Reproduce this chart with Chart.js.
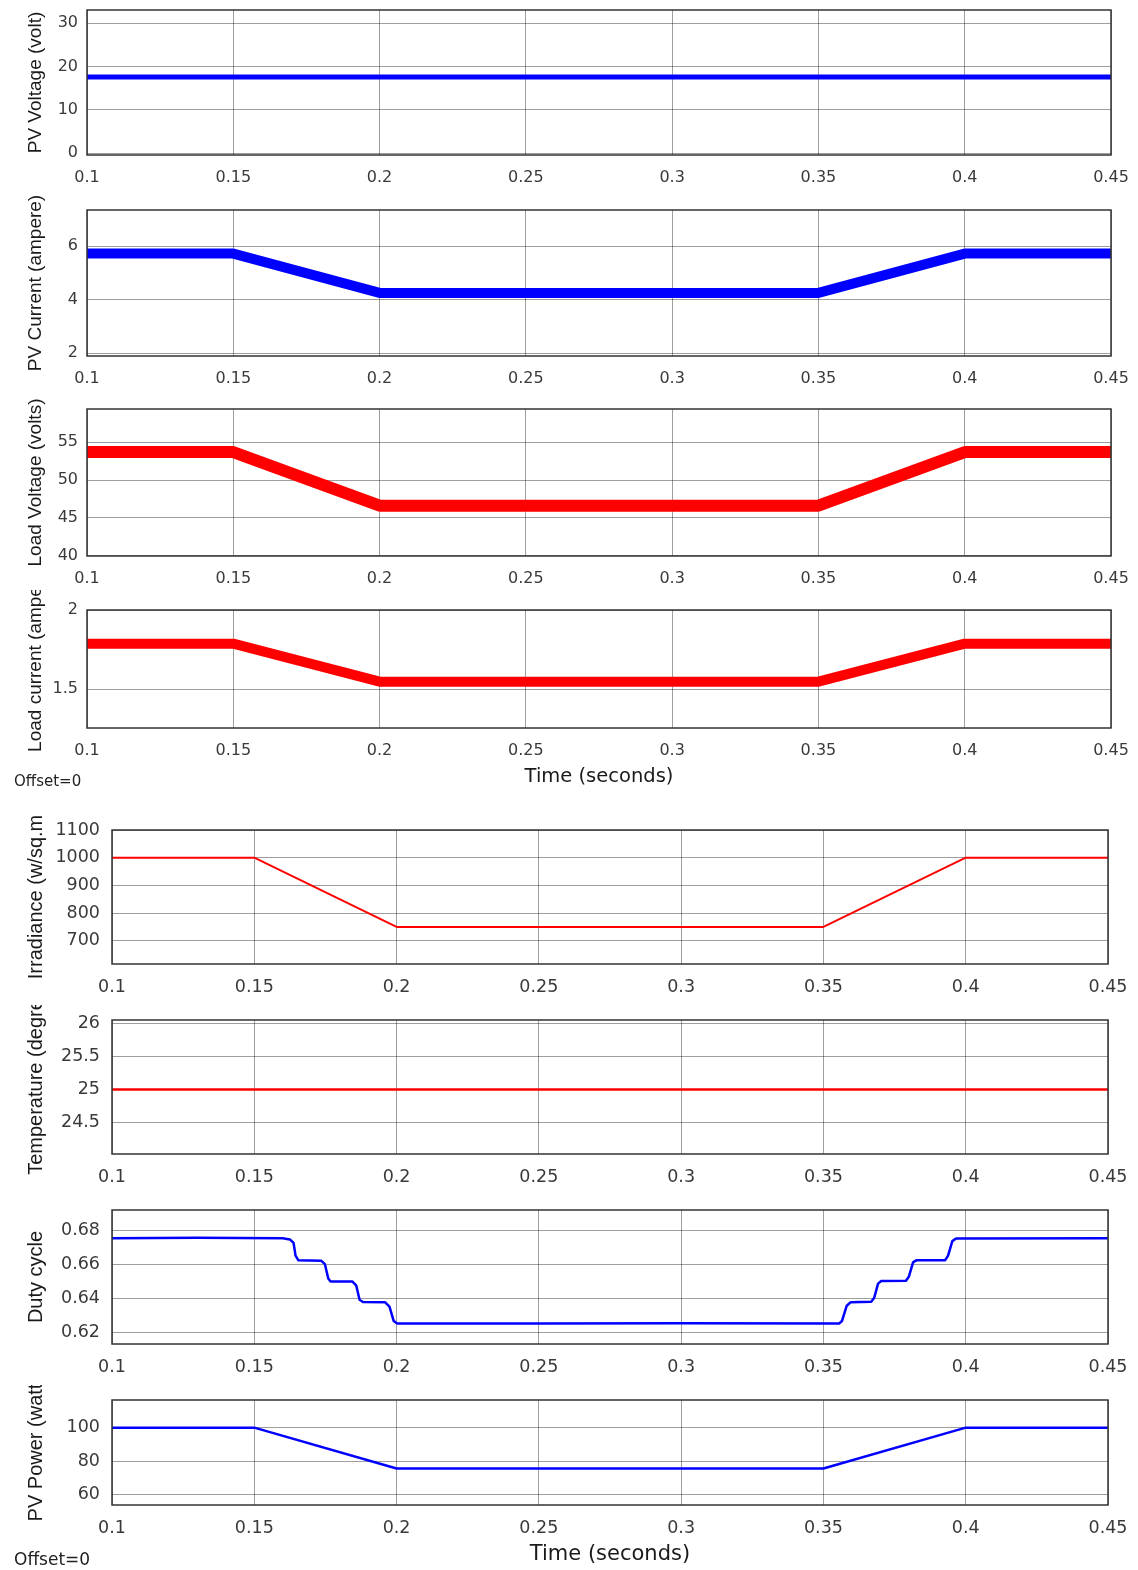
<!DOCTYPE html>
<html>
<head>
<meta charset="utf-8">
<script src="https://cdn.jsdelivr.net/npm/chart.js@4.4.1/dist/chart.umd.min.js"></script>
<style>
  html, body { margin: 0; padding: 0; background: #fff; }
  #page { position: relative; width: 1138px; height: 1570px; overflow: hidden; }
  canvas { position: absolute; left: 0; }
  .offset { position: absolute; left: 14px; font-family: 'DejaVu Sans'; color: #222; line-height: 1; }
</style>
</head>
<body>
<div id="page">
  <canvas id="pvVoltageChart" width="1138" height="190" style="top:0px"></canvas>
  <canvas id="pvCurrentChart" width="1138" height="200" style="top:190px"></canvas>
  <canvas id="loadVoltageChart" width="1138" height="200" style="top:390px"></canvas>
  <canvas id="loadCurrentChart" width="1138" height="200" style="top:590px"></canvas>
  <canvas id="irradianceChart" width="1138" height="200" style="top:805px"></canvas>
  <canvas id="temperatureChart" width="1138" height="195" style="top:1005px"></canvas>
  <canvas id="dutyChart" width="1138" height="190" style="top:1200px"></canvas>
  <canvas id="pvPowerChart" width="1138" height="185" style="top:1385px"></canvas>
  <div class="offset" style="top:774px;font-size:15px">Offset=0</div>
  <div class="offset" style="top:1551px;font-size:17px">Offset=0</div>
</div>
<script>
/*--Data--*/
var flatTime = [0.1, 0.45];
var rampTime = [0.1, 0.15, 0.2, 0.35, 0.4, 0.45];
var timeTicks = [0.1, 0.15, 0.2, 0.25, 0.3, 0.35, 0.4, 0.45];

var pvVoltage = [17.6, 17.6];
var pvCurrent = [5.72, 5.72, 4.25, 4.25, 5.72, 5.72];
var loadVoltage = [53.7, 53.7, 46.6, 46.6, 53.7, 53.7];
var loadCurrent = [1.787, 1.787, 1.547, 1.547, 1.787, 1.787];
var irradiance = [1000, 1000, 750, 750, 1000, 1000];
var temperature = [25, 25];
var pvPower = [100, 100, 75.5, 75.5, 100, 100];

var dutyTime = [0.1, 0.13, 0.16, 0.1625, 0.1638, 0.1645, 0.1655, 0.1735, 0.1748, 0.176, 0.1768,
  0.1845, 0.1858, 0.187, 0.1882, 0.196, 0.1975, 0.199, 0.2002, 0.25, 0.3, 0.3555,
  0.3565, 0.3582, 0.3595, 0.3668, 0.3678, 0.3692, 0.3703, 0.379, 0.38, 0.3815, 0.3826,
  0.3928, 0.3938, 0.3953, 0.3966, 0.45];
var dutyCycle = [0.6752, 0.6755, 0.6752, 0.6745, 0.6725, 0.665, 0.6622, 0.662, 0.66, 0.6515, 0.6498,
  0.6497, 0.6475, 0.639, 0.6377, 0.6375, 0.635, 0.6265, 0.625, 0.6251, 0.6252, 0.625,
  0.6265, 0.6355, 0.6375, 0.6378, 0.64, 0.6485, 0.65, 0.6502, 0.6525, 0.661, 0.6622,
  0.6623, 0.665, 0.6735, 0.675, 0.6752];

var pvVoltageTicks = [0, 10, 20, 30];
var pvCurrentTicks = [2, 4, 6];
var loadVoltageTicks = [40, 45, 50, 55];
var loadCurrentTicks = [1.5, 2];
var irradianceTicks = [700, 800, 900, 1000, 1100];
var temperatureTicks = [24.5, 25, 25.5, 26];
var dutyTicks = [0.62, 0.64, 0.66, 0.68];
var pvPowerTicks = [60, 80, 100];
/*--------*/

var topGroup = { left: 87, right: 27, tickSize: 16, tickPad: 9, titleSize: 19, timeSize: 19.5 };
var bottomGroup = { left: 112, right: 30, tickSize: 17.5, tickPad: 12, titleSize: 20, timeSize: 21 };

var boxPlugin = {
  id: 'box',
  afterDraw: function (chart) {
    var a = chart.chartArea, ctx = chart.ctx;
    ctx.save();
    ctx.strokeStyle = '#333';
    ctx.lineWidth = 1.5;
    ctx.strokeRect(a.left, a.top, a.right - a.left, a.bottom - a.top);
    ctx.restore();
  }
};

function pts(t, v) {
  return t.map(function (x, i) { return { x: x, y: v[i] }; });
}

function fmt(v) { return String(Math.round(v * 1000) / 1000); }

function useTicks(list) {
  return function (scale) {
    scale.ticks = list.map(function (v) { return { value: v }; });
  };
}

function makeChart(id, o) {
  var g = o.group;
  var gridOpts = { color: 'rgba(0,0,0,0.38)', lineWidth: 1, drawTicks: false };
  return new Chart(id, {
    type: 'line',
    data: {
      datasets: [{
        data: pts(o.t, o.v),
        borderColor: o.color,
        borderWidth: o.lw,
        pointRadius: 0,
        tension: 0,
        borderJoinStyle: 'round'
      }]
    },
    options: {
      responsive: false,
      animation: false,
      devicePixelRatio: 1,
      layout: { padding: { top: o.padTop, right: g.right, bottom: 0, left: 0 } },
      plugins: { legend: { display: false }, tooltip: { enabled: false } },
      scales: {
        x: {
          type: 'linear', min: timeTicks[0], max: timeTicks[timeTicks.length - 1], bounds: 'data',
          grid: gridOpts, border: { display: false },
          ticks: { padding: 13, color: '#3a3a3a', maxRotation: 0, autoSkip: false,
                   font: { family: 'DejaVu Sans', size: g.tickSize }, callback: fmt },
          afterBuildTicks: useTicks(timeTicks),
          title: { display: !!o.xTitle, text: o.xTitle || '', color: '#1a1a1a',
                   padding: { top: 0, bottom: o.xTitlePad || 1 },
                   font: { family: 'DejaVu Sans', size: g.timeSize } },
          afterFit: function (s) { s.height = o.xh; s.paddingLeft = 0; s.paddingRight = 0; }
        },
        y: {
          min: o.min, max: o.max, bounds: 'data',
          grid: gridOpts, border: { display: false },
          ticks: { padding: g.tickPad, color: '#3a3a3a', autoSkip: false,
                   font: { family: 'DejaVu Sans', size: g.tickSize }, callback: fmt },
          afterBuildTicks: useTicks(o.ticks),
          title: { display: true, text: o.yTitle, color: '#1a1a1a',
                   padding: { top: 24, bottom: 0 },
                   font: { family: 'Liberation Sans', size: g.titleSize } },
          afterFit: function (s) { s.width = g.left; s.paddingTop = 0; s.paddingBottom = 0; }
        }
      }
    },
    plugins: [boxPlugin]
  });
}

makeChart('pvVoltageChart', { group: topGroup, t: flatTime, v: pvVoltage, color: '#0000ff', lw: 5,
  padTop: 10, xh: 35, min: -0.4, max: 33.07, ticks: pvVoltageTicks, yTitle: 'PV Voltage (volt)' });
makeChart('pvCurrentChart', { group: topGroup, t: rampTime, v: pvCurrent, color: '#0000ff', lw: 10,
  padTop: 20, xh: 34, min: 1.89, max: 7.35, ticks: pvCurrentTicks, yTitle: 'PV Current (ampere)' });
makeChart('loadVoltageChart', { group: topGroup, t: rampTime, v: loadVoltage, color: '#ff0000', lw: 12,
  padTop: 19, xh: 34, min: 39.95, max: 59.4, ticks: loadVoltageTicks, yTitle: 'Load Voltage (volts)' });
makeChart('loadCurrentChart', { group: topGroup, t: rampTime, v: loadCurrent, color: '#ff0000', lw: 10,
  padTop: 20, xh: 62, min: 1.254, max: 2.0, ticks: loadCurrentTicks, yTitle: 'Load current (ampe',
  xTitle: 'Time (seconds)', xTitlePad: 1 });

makeChart('irradianceChart', { group: bottomGroup, t: rampTime, v: irradiance, color: '#ff0000', lw: 2,
  padTop: 25, xh: 41, min: 616, max: 1100, ticks: irradianceTicks, yTitle: 'Irradiance (w/sq.m' });
makeChart('temperatureChart', { group: bottomGroup, t: flatTime, v: temperature, color: '#ff0000', lw: 2.5,
  padTop: 15, xh: 46, min: 24.026, max: 26.05, ticks: temperatureTicks, yTitle: 'Temperature (degre' });
makeChart('dutyChart', { group: bottomGroup, t: dutyTime, v: dutyCycle, color: '#0000ff', lw: 2.5,
  padTop: 10, xh: 46, min: 0.613, max: 0.6918, ticks: dutyTicks, yTitle: 'Duty cycle' });
makeChart('pvPowerChart', { group: bottomGroup, t: rampTime, v: pvPower, color: '#0000ff', lw: 2.5,
  padTop: 15, xh: 65, min: 53.6, max: 116.6, ticks: pvPowerTicks, yTitle: 'PV Power (watt',
  xTitle: 'Time (seconds)', xTitlePad: 3 });
</script>
</body>
</html>
